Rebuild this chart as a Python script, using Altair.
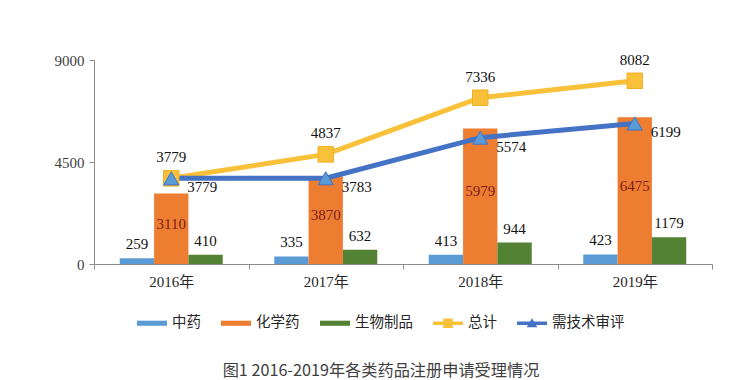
import altair as alt
import pandas as pd

years = ["2016年", "2017年", "2018年", "2019年"]
tcm = [259, 335, 413, 423]
chem = [3110, 3870, 5979, 6475]
bio = [410, 632, 944, 1179]
total = [3779, 4837, 7336, 8082]
review = [3779, 3783, 5574, 6199]
bar_series = ["中药", "化学药", "生物制品"]
line_series = ["总计", "需技术审评"]
all_series = bar_series + line_series
colors = ["#5B9BD5", "#ED7D31", "#548235", "#F9C13A", "#4472C4"]
title_text = "图1 2016-2019年各类药品注册申请受理情况"

bars = pd.DataFrame(
    [{"year": y, "series": s, "value": v}
     for s, vals in zip(bar_series, [tcm, chem, bio])
     for y, v in zip(years, vals)]
)
lines = pd.DataFrame(
    [{"year": y, "series": s, "value": v}
     for s, vals in zip(line_series, [total, review])
     for y, v in zip(years, vals)]
)
legend_df = pd.DataFrame({"key": all_series})

SERIF = "Liberation Serif, Noto Sans CJK SC"
SANS = "Noto Sans CJK SC"

x = alt.X("year:N", sort=years, title=None,
          scale=alt.Scale(paddingInner=0, paddingOuter=0),
          axis=alt.Axis(labelAngle=0, tickBand="extent", tickSize=5,
                        labelFont=SERIF, labelFontSize=15, labelColor="#262626",
                        labelPadding=5, domainColor="#8C8C8C", tickColor="#8C8C8C"))
y = alt.Y("value:Q", title=None,
          scale=alt.Scale(domain=[0, 9000], nice=False),
          axis=alt.Axis(values=[0, 4500, 9000], grid=False, tickSize=5, format="d",
                        labelFont=SERIF, labelFontSize=15, labelColor="#404040",
                        labelPadding=5, domainColor="#8C8C8C", tickColor="#8C8C8C"))
color_scale = alt.Scale(domain=all_series, range=colors)

base_bar = alt.Chart(bars).encode(
    x=x,
    xOffset=alt.XOffset("series:N", sort=bar_series,
                        scale=alt.Scale(domain=bar_series, paddingInner=0, paddingOuter=0.75)),
)
bar_layer = base_bar.mark_bar().encode(
    y=y, color=alt.Color("series:N", scale=color_scale, legend=None)
)
bar_top_labels = base_bar.transform_filter(
    alt.FieldOneOfPredicate(field="series", oneOf=["中药", "生物制品"])
).mark_text(font=SERIF, fontSize=15, baseline="middle", dy=-14, color="#111111").encode(
    y=alt.Y("value:Q"), text="value:Q"
)
bar_mid_labels = base_bar.transform_filter(
    alt.datum.series == "化学药"
).transform_calculate(mid="datum.value / 2").mark_text(
    font=SERIF, fontSize=15, baseline="middle", dy=-5, color="#7F1D1D"
).encode(y=alt.Y("mid:Q"), text="value:Q")

line_base = alt.Chart(lines).encode(x=x, y=alt.Y("value:Q"))
total_line = line_base.transform_filter(alt.datum.series == "总计").mark_line(
    color="#F9C13A", strokeWidth=5
)
total_pts = line_base.transform_filter(alt.datum.series == "总计").mark_point(
    shape="square", size=240, filled=True, color="#F9C13A", opacity=1,
    stroke="#F0B020", strokeWidth=1
)
total_labels = line_base.transform_filter(alt.datum.series == "总计").mark_text(
    font=SERIF, fontSize=15, baseline="middle", dy=-21, color="#111111"
).encode(text="value:Q")
review_line = line_base.transform_filter(alt.datum.series == "需技术审评").mark_line(
    color="#4472C4", strokeWidth=5
)
review_pts = line_base.transform_filter(alt.datum.series == "需技术审评").mark_point(
    shape="triangle-up", size=230, filled=True, fill="#5B9BD5", opacity=1,
    stroke="#4472C4", strokeWidth=1
)
review_labels = line_base.transform_filter(alt.datum.series == "需技术审评").mark_text(
    font=SERIF, fontSize=15, baseline="middle", align="left", dx=16, dy=9, color="#111111"
).encode(text="value:Q")

bar_sym = "M-1,-0.17H1V0.17H-1Z"
tot_sym = "M-1,-0.12H1V0.12H-1Z M-0.32,-0.32H0.32V0.32H-0.32Z"
rev_sym = "M-1,-0.12H1V0.12H-1Z M0,-0.34L0.36,0.26H-0.36Z"

legend_layer = alt.Chart(legend_df).mark_point(filled=True, size=0, opacity=1).encode(
    x=alt.value(0), y=alt.value(0),
    fill=alt.Fill("key:N", sort=all_series, title=None,
                  scale=alt.Scale(domain=all_series, range=colors),
                  legend=alt.Legend(orient="none", direction="horizontal",
                                    legendX=43, legendY=248, symbolSize=900,
                                    symbolStrokeWidth=0, symbolOpacity=1,
                                    labelFont=SANS, labelFontSize=14.5,
                                    labelColor="#262626", labelOffset=5,
                                    columnPadding=20, padding=0)),
    shape=alt.Shape("key:N", sort=all_series, title=None,
                    scale=alt.Scale(domain=all_series,
                                    range=[bar_sym, bar_sym, bar_sym, tot_sym, rev_sym])),
)

chart = alt.layer(
    bar_layer, bar_top_labels, bar_mid_labels,
    total_line, review_line, total_pts, review_pts,
    total_labels, review_labels, legend_layer
).resolve_scale(fill="independent", shape="independent").properties(
    width=618, height=204,
    background="white",
    autosize=alt.AutoSizeParams(type="none"),
    padding={"left": 86, "top": 52, "right": 30, "bottom": 116},
    title=alt.TitleParams(title_text, orient="bottom", font=SANS, fontSize=16.2,
                          fontWeight="normal", color="#404040", dx=-22, offset=33),
).configure_view(stroke=None)

chart.save("out.html", embed_options={"renderer": "svg", "actions": False})
